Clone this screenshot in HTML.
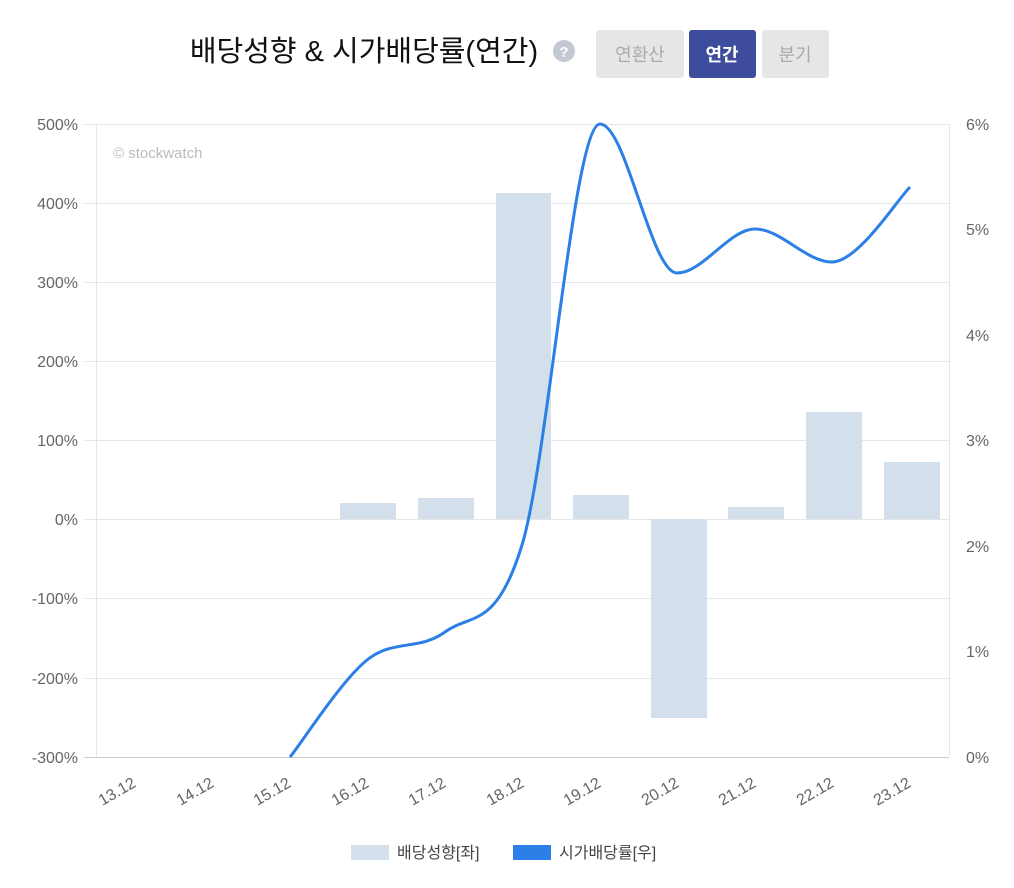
<!DOCTYPE html>
<html><head><meta charset="utf-8"><style>
body{margin:0;background:#fff;width:1014px;height:883px;overflow:hidden;font-family:"Liberation Sans","Noto Sans CJK KR",sans-serif}
</style></head><body>
<svg width="1014" height="883" xmlns="http://www.w3.org/2000/svg" font-family="Liberation Sans, Noto Sans CJK KR, sans-serif">
<text x="364" y="61" text-anchor="middle" font-size="29" fill="#111">배당성향 &amp; 시가배당률(연간)</text>
<circle cx="564" cy="51" r="11" fill="#c4c8d4"/>
<text x="564" y="57" text-anchor="middle" font-size="15" font-weight="bold" fill="#fff">?</text>
<rect x="596" y="30" width="88" height="48" rx="3" fill="#e6e6e6"/>
<text x="640" y="61" text-anchor="middle" font-size="18" fill="#aaa">연환산</text>
<rect x="689" y="30" width="67" height="48" rx="3" fill="#3d4d9b"/>
<text x="722" y="61" text-anchor="middle" font-size="18" font-weight="bold" fill="#fff">연간</text>
<rect x="762" y="30" width="67" height="48" rx="3" fill="#e6e6e6"/>
<text x="795" y="61" text-anchor="middle" font-size="18" fill="#aaa">분기</text>
<g stroke="#e6e6e6" stroke-width="1">
<line x1="84" x2="949" y1="124.5" y2="124.5"/><line x1="84" x2="949" y1="203.5" y2="203.5"/>
<line x1="84" x2="949" y1="282.5" y2="282.5"/><line x1="84" x2="949" y1="361.5" y2="361.5"/>
<line x1="84" x2="949" y1="440.5" y2="440.5"/><line x1="84" x2="949" y1="519.5" y2="519.5"/>
<line x1="84" x2="949" y1="598.5" y2="598.5"/><line x1="84" x2="949" y1="678.5" y2="678.5"/>
<line x1="96.5" x2="96.5" y1="124" y2="757"/><line x1="949.5" x2="949.5" y1="124" y2="757"/>
</g>
<line x1="84" x2="949" y1="757.5" y2="757.5" stroke="#ccc"/>
<text x="113" y="158" font-size="15" fill="#bbb">© stockwatch</text>
<g font-size="16" fill="#666" text-anchor="end">
<text x="78" y="130">500%</text><text x="78" y="209">400%</text><text x="78" y="288">300%</text>
<text x="78" y="367">200%</text><text x="78" y="446">100%</text><text x="78" y="525">0%</text>
<text x="78" y="604">-100%</text><text x="78" y="684">-200%</text><text x="78" y="763">-300%</text>
</g>
<g font-size="16" fill="#666">
<text x="966" y="130">6%</text><text x="966" y="235">5%</text><text x="966" y="341">4%</text>
<text x="966" y="446">3%</text><text x="966" y="552">2%</text><text x="966" y="657">1%</text><text x="966" y="763">0%</text>
</g>
<g fill="#d3dfea">
<rect x="340" y="503" width="56" height="16"/>
<rect x="418" y="498" width="56" height="21"/>
<rect x="496" y="193" width="55" height="326"/>
<rect x="573" y="495" width="56" height="24"/>
<rect x="651" y="519" width="56" height="199"/>
<rect x="728" y="507" width="56" height="12"/>
<rect x="806" y="412" width="56" height="107"/>
<rect x="884" y="462" width="56" height="57"/>
</g>
<path d="M290,757 C303,741 341,681 367,660 C393,639 419,651 445,632 C471,613 496,630 522,545 C548,460 574,124 600,124 C626,124 651,273 677,273 C703,273 729,229 755,229 C781,229 806,262 832,262 C858,262 897,200 910,187" fill="none" stroke="#2b7fe6" stroke-width="3"/>
<g font-size="16" fill="#666" text-anchor="end">
<text transform="translate(137,786) rotate(-30)">13.12</text>
<text transform="translate(215,786) rotate(-30)">14.12</text>
<text transform="translate(292,786) rotate(-30)">15.12</text>
<text transform="translate(370,786) rotate(-30)">16.12</text>
<text transform="translate(447,786) rotate(-30)">17.12</text>
<text transform="translate(525,786) rotate(-30)">18.12</text>
<text transform="translate(602,786) rotate(-30)">19.12</text>
<text transform="translate(680,786) rotate(-30)">20.12</text>
<text transform="translate(757,786) rotate(-30)">21.12</text>
<text transform="translate(835,786) rotate(-30)">22.12</text>
<text transform="translate(912,786) rotate(-30)">23.12</text>
</g>
<rect x="351" y="845" width="38" height="15" fill="#d3dfea"/>
<text x="397" y="858" font-size="16" fill="#444">배당성향[좌]</text>
<rect x="513" y="845" width="38" height="15" fill="#2b7fe6"/>
<text x="559" y="858" font-size="16" fill="#444">시가배당률[우]</text>
</svg>
</body></html>
